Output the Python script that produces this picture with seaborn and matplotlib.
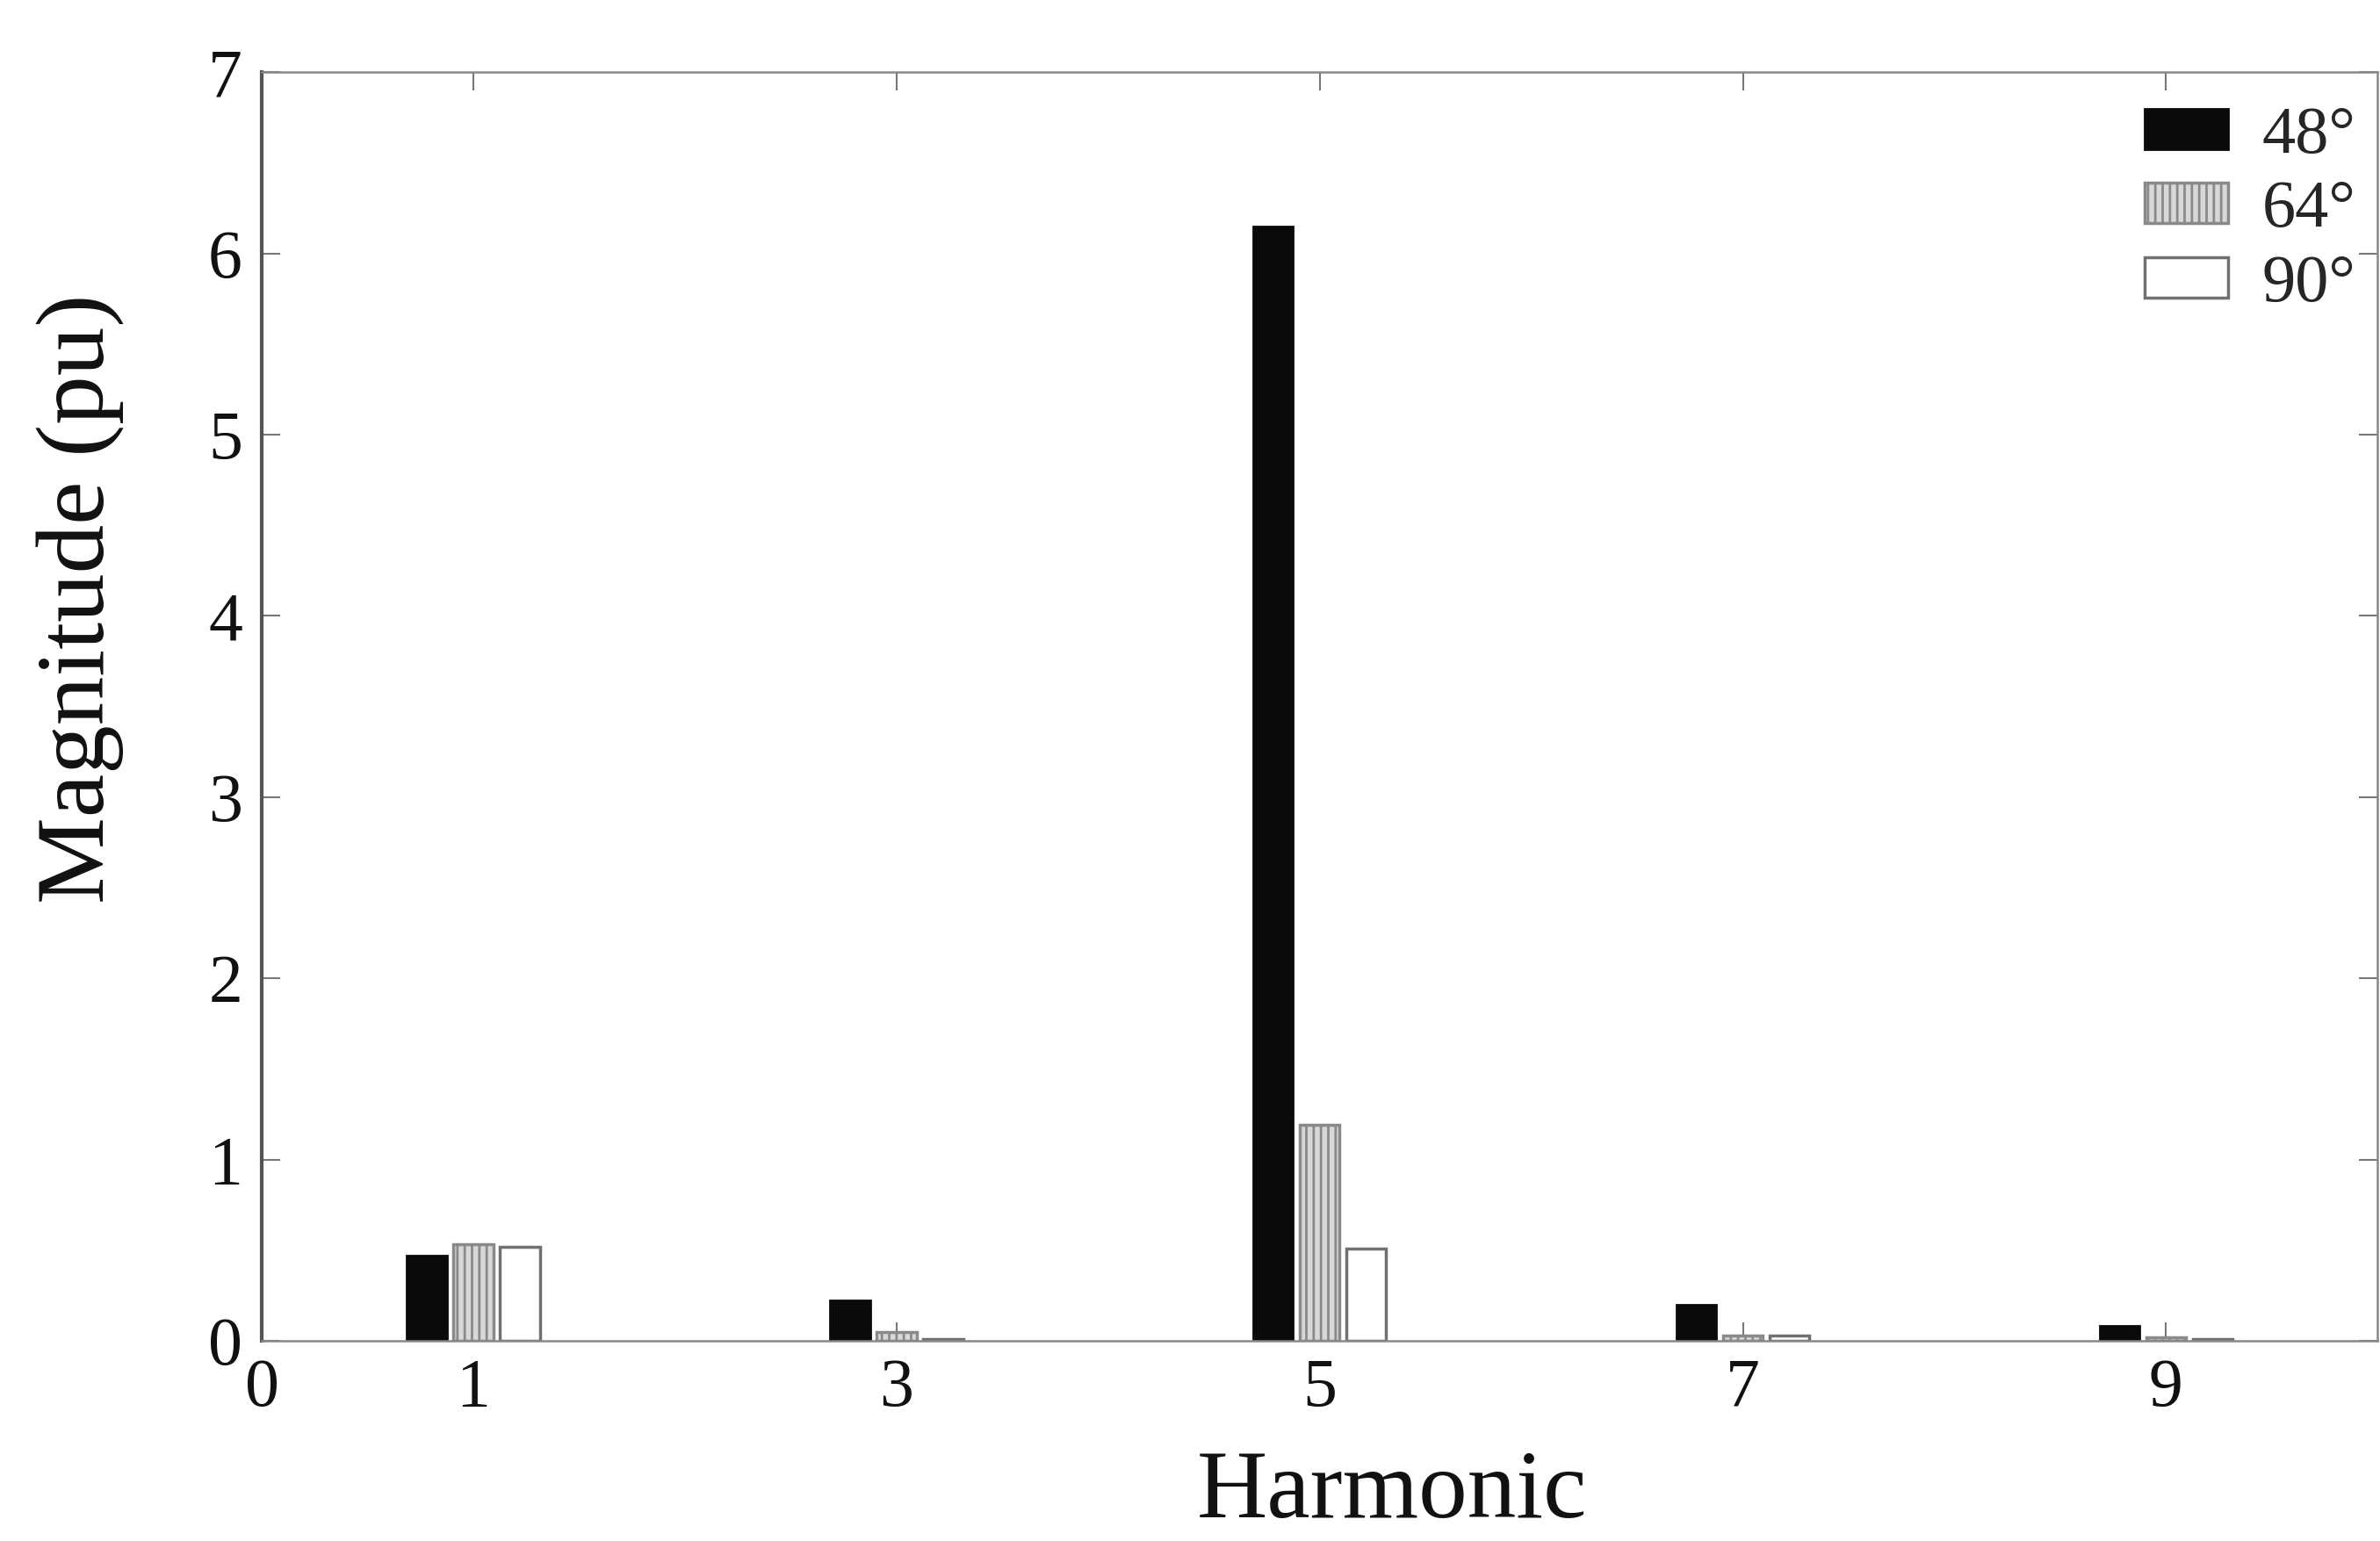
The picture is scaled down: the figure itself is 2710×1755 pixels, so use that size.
import matplotlib
matplotlib.use("Agg")
import matplotlib.pyplot as plt
import seaborn as sns
import pandas as pd

harmonics = [1, 3, 5, 7, 9]
angles = ["48°", "64°", "90°"]
mag_48 = [0.47, 0.22, 6.15, 0.20, 0.08]
mag_64 = [0.53, 0.05, 1.19, 0.03, 0.02]
mag_90 = [0.52, 0.01, 0.51, 0.03, 0.01]

rows = []
for a, vals in zip(angles, [mag_48, mag_64, mag_90]):
    for h, v in zip(harmonics, vals):
        rows.append({"Harmonic": h, "Magnitude": v, "Angle": a})
df = pd.DataFrame(rows)

sns.set_theme(style="white")
plt.rcParams["font.family"] = ["Liberation Serif", "DejaVu Serif"]
plt.rcParams["hatch.linewidth"] = 2.0

fig = plt.figure(figsize=(27.10, 17.55), dpi=100)
ax = fig.add_axes([0.110, 0.130, 0.889, 0.823])

sns.barplot(data=df, x="Harmonic", y="Magnitude", hue="Angle",
            hue_order=angles, native_scale=True, width=0.33, gap=0.14,
            errorbar=None, legend=False, ax=ax)

styles = [
    dict(facecolor="#0a0a0a", edgecolor="#0a0a0a", hatch=None, lw=2.0),
    dict(facecolor="#d8d8d8", edgecolor="#8a8a8a", hatch="||", lw=2.5),
    dict(facecolor="white", edgecolor="#707070", hatch=None, lw=2.5),
]
for cont, st in zip(ax.containers, styles):
    for p in cont.patches:
        p.set_facecolor(st["facecolor"])
        p.set_edgecolor(st["edgecolor"])
        p.set_linewidth(st["lw"])
        if st["hatch"]:
            p.set_hatch(st["hatch"])

ax.set_xlim(0, 10)
ax.set_ylim(0, 7)
ax.set_xticks([0, 1, 3, 5, 7, 9])
ax.set_xticklabels(["0", "1", "3", "5", "7", "9"])
ax.set_yticks(range(0, 8))

ax.tick_params(axis="both", which="both", direction="in", length=15, width=1.5,
               color="#777777", labelsize=56, labelcolor="#111111",
               top=True, right=True, bottom=True, left=True)
ax.tick_params(axis="y", pad=16)
ax.tick_params(axis="x", pad=14)

for name, sp in ax.spines.items():
    sp.set_visible(True)
    sp.set_color("#888888")
    sp.set_linewidth(1.8)
ax.spines["left"].set_color("#555555")
ax.spines["left"].set_linewidth(3.0)

ax.set_xlabel("Harmonic", fontsize=80, color="#111111")
ax.set_ylabel("Magnitude (pu)", fontsize=80, color="#111111")
ax.xaxis.set_label_coords(0.534, -0.086)
ax.yaxis.set_label_coords(-0.065, 0.585)

ax.legend(ax.containers, angles, loc="upper left",
          bbox_to_anchor=(0.901, 0.931), bbox_transform=fig.transFigure,
          frameon=False, fontsize=55, handlelength=1.25, handleheight=0.55,
          handletextpad=0.5, labelspacing=0.2, borderpad=0, borderaxespad=0)

fig.savefig("out.png", dpi=100, facecolor="white")
